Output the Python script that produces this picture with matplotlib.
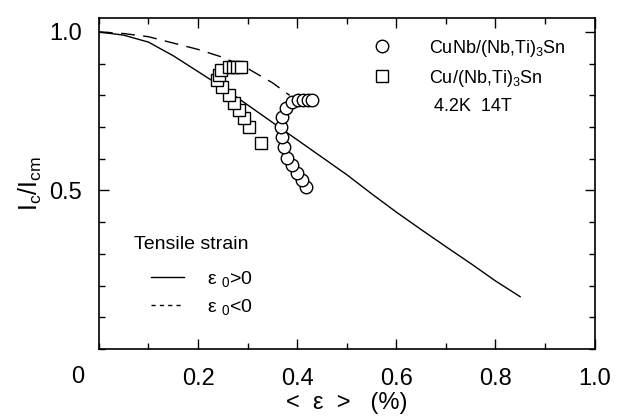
import matplotlib
matplotlib.use("Agg")
import matplotlib.pyplot as plt
from matplotlib.lines import Line2D
from matplotlib.ticker import MultipleLocator

plt.rcParams["font.family"] = ["Liberation Sans", "DejaVu Sans"]
plt.rcParams["mathtext.fontset"] = "custom"
plt.rcParams["mathtext.rm"] = "Liberation Sans"
plt.rcParams["mathtext.it"] = "Liberation Sans"

# calculated curves, tensile strain eps0 > 0 (solid) and eps0 < 0 (dashed)
strain_pos = [0, 0.05, 0.10, 0.15, 0.20, 0.25, 0.30, 0.35, 0.40, 0.45,
              0.50, 0.55, 0.60, 0.65, 0.70, 0.75, 0.80, 0.85]
ic_pos = [1.0, 0.99, 0.968, 0.925, 0.875, 0.825, 0.77, 0.715, 0.66, 0.605,
          0.55, 0.49, 0.432, 0.377, 0.323, 0.27, 0.215, 0.165]
strain_neg = [0, 0.05, 0.10, 0.15, 0.20, 0.25, 0.30, 0.35, 0.385]
ic_neg = [1.0, 0.995, 0.985, 0.965, 0.945, 0.92, 0.885, 0.84, 0.80]

# measured: CuNb/(Nb,Ti)3Sn (circles)
cunb_x = [0.418, 0.410, 0.400, 0.390, 0.380, 0.374, 0.370, 0.368, 0.370,
          0.378, 0.390, 0.402, 0.412, 0.422, 0.430]
cunb_y = [0.510, 0.532, 0.554, 0.579, 0.604, 0.636, 0.668, 0.699, 0.731,
          0.759, 0.778, 0.785, 0.785, 0.785, 0.785]
# measured: Cu/(Nb,Ti)3Sn (squares)
cu_x = [0.327, 0.303, 0.293, 0.283, 0.273, 0.263, 0.248, 0.238, 0.242,
        0.246, 0.262, 0.270, 0.278, 0.286]
cu_y = [0.649, 0.699, 0.728, 0.753, 0.775, 0.801, 0.826, 0.848, 0.864,
        0.880, 0.889, 0.889, 0.889, 0.889]

xticks = [0.2, 0.4, 0.6, 0.8, 1.0]
xticklabels = ["0.2", "0.4", "0.6", "0.8", "1.0"]
yticks = [0.5, 1.0]
yticklabels = ["0.5", "1.0"]

fig = plt.figure(figsize=(6.18, 4.19), dpi=100)
ax = fig.add_axes([0.16, 0.167, 0.802, 0.79])

ax.plot(strain_pos, ic_pos, color="black", lw=1.0)
ax.plot(strain_neg, ic_neg, color="black", lw=1.0, dashes=(10, 6))
ax.plot(cu_x, cu_y, ls="none", marker="s", ms=8.5, mfc="white",
        mec="black", mew=1.0)
ax.plot(cunb_x, cunb_y, ls="none", marker="o", ms=9, mfc="white",
        mec="black", mew=1.0)

ax.set_xlim(0, 1.0)
ax.set_ylim(0, 1.044)
ax.set_xticks(xticks)
ax.set_xticklabels(xticklabels)
ax.set_yticks(yticks)
ax.set_yticklabels(yticklabels)
ax.xaxis.set_minor_locator(MultipleLocator(0.1))
ax.yaxis.set_minor_locator(MultipleLocator(0.1))
ax.tick_params(which="both", direction="in", top=True, right=True,
               labelsize=17, width=1.0)
ax.tick_params(which="major", length=7)
ax.tick_params(axis="y", which="major", pad=12)
ax.tick_params(axis="x", which="major", pad=14)
ax.tick_params(which="minor", length=4)
for s in ax.spines.values():
    s.set_linewidth(1.2)

ax.text(-0.042, -0.085, "0", transform=ax.transAxes, fontsize=17,
        ha="center", va="center")
ax.set_xlabel("<  ε  >   (%)", fontsize=17, labelpad=1)
ax.set_ylabel(r"I$_\mathrm{c}$/I$_\mathrm{cm}$", fontsize=18, labelpad=4)

sym = [Line2D([], [], ls="none", marker="o", ms=9, mfc="white", mec="black"),
       Line2D([], [], ls="none", marker="s", ms=8.5, mfc="white", mec="black"),
       Line2D([], [], ls="none")]
leg1 = ax.legend(sym, [r"CuNb/(Nb,Ti)$_3$Sn", r"Cu/(Nb,Ti)$_3$Sn", " 4.2K  14T"],
                 loc="upper right", bbox_to_anchor=(0.975, 0.99), frameon=False,
                 fontsize=13, handletextpad=1.6, labelspacing=0.5)
ax.add_artist(leg1)

ax.text(0.07, 0.315, "Tensile strain", transform=ax.transAxes, fontsize=14,
        ha="left", va="center")
lines = [Line2D([], [], color="black", lw=1.0),
         Line2D([], [], color="black", lw=1.0, dashes=(3, 3))]
ax.legend(lines, [r"ε $_0$>0", r"ε $_0$<0"],
          loc="upper left", bbox_to_anchor=(0.07, 0.295), frameon=False,
          fontsize=14, handlelength=1.7, handletextpad=1.2, labelspacing=0.4)

fig.savefig("out.png", dpi=100)
